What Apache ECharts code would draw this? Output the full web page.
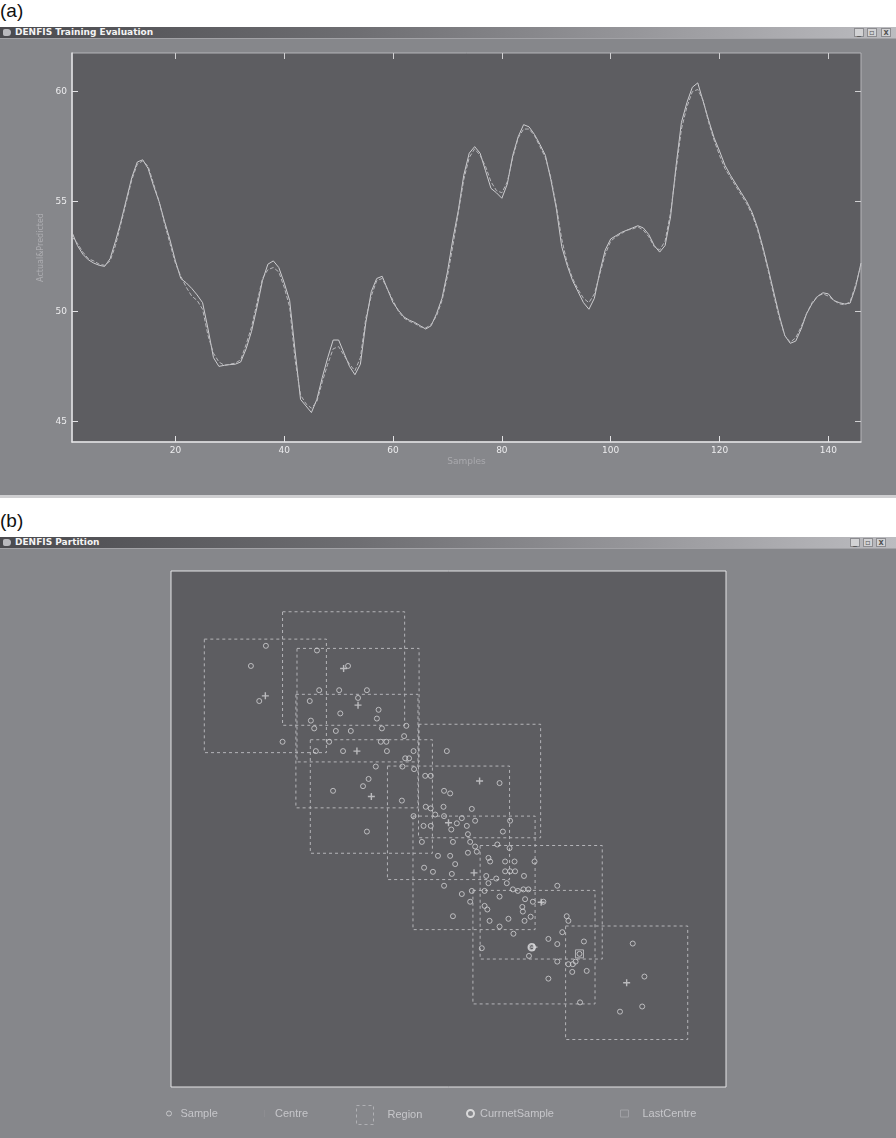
<!DOCTYPE html>
<html>
<head>
<meta charset="utf-8">
<script src="https://cdn.jsdelivr.net/npm/echarts@6/dist/echarts.min.js"></script>
<style>
  body { margin: 0; background: #fff; }
  #page { position: relative; width: 896px; height: 1138px; background: #fff; overflow: hidden; font-family: "Liberation Sans", Arial, sans-serif; }
  .lab { position: absolute; left: 0; font-size: 19px; color: #111; }
  .bar { position: absolute; left: 0; width: 896px; height: 11px; background: linear-gradient(to right, #4a4a4e 0%, #6e6e72 40%, #bcbcc0 100%); }
  .bar span { position: absolute; left: 15px; top: 0; font: bold 9px "DejaVu Sans", sans-serif; line-height: 11px; color: #f4f4f4; white-space: nowrap; }
  .ico { position: absolute; left: 3px; top: 2px; width: 8px; height: 7px; background: #b9b9bd; border-radius: 2px 4px 4px 2px; }
  .btn { position: absolute; top: 1px; width: 10px; height: 9px; background: #d2d2d4; border: 1px solid #8c8c90; box-sizing: border-box; font: bold 8px "DejaVu Sans", sans-serif; line-height: 7px; text-align: center; color: #555; }
  .sep { position: absolute; left: 0; width: 896px; height: 1px; background: #a2a2a6; }
  .body { position: absolute; left: 0; width: 896px; background: #86878b; }
  #chart { position: absolute; left: 0; top: 0; width: 896px; height: 1138px; }
</style>
</head>
<body>
<div id="page">
  <div class="lab" style="top:0px">(a)</div>
  <div class="bar" style="top:27px"><div class="ico"></div><span>DENFIS Training Evaluation</span>
    <div class="btn" style="left:854px">_</div><div class="btn" style="left:867px">&#9643;</div><div class="btn" style="left:881px">x</div>
  </div>
  <div class="sep" style="top:38px"></div>
  <div class="body" style="top:39px; height:456px"></div>
  <div class="sep" style="top:495px; height:3px; background:#cfcfd1"></div>

  <div class="lab" style="top:510px">(b)</div>
  <div class="bar" style="top:537px"><div class="ico"></div><span>DENFIS Partition</span>
    <div class="btn" style="left:850px">_</div><div class="btn" style="left:863px">&#9643;</div><div class="btn" style="left:876px">x</div>
  </div>
  <div class="sep" style="top:548px"></div>
  <div class="body" style="top:549px; height:589px"></div>

  <div id="chart"></div>
</div>
<script>
// ---------- (a) training evaluation ----------
const xTicks = [20, 40, 60, 80, 100, 120, 140]
const yTicks = [45, 50, 55, 60]

const actual = [53.6, 53.0, 52.6, 52.35, 52.2, 52.1, 52.05, 52.4, 53.2, 54.1,
  55.1, 56.1, 56.8, 56.9, 56.5, 55.7, 55.0, 54.1, 53.26, 52.3,
  51.5, 51.3, 51.05, 50.75, 50.4, 49.2, 47.9, 47.5, 47.55, 47.58,
  47.6, 47.7, 48.3, 49.1, 50.2, 51.4, 52.15, 52.3, 52.0, 51.3,
  50.5, 48.2, 46.0, 45.7, 45.4, 46.0, 47.0, 47.9, 48.7, 48.7,
  48.1, 47.5, 47.12, 47.6, 49.5, 50.9, 51.5, 51.6, 51.0, 50.4,
  50.05, 49.75, 49.6, 49.5, 49.35, 49.2, 49.35, 49.9, 50.6, 51.8,
  53.3, 54.6, 56.2, 57.2, 57.5, 57.2, 56.4, 55.6, 55.4, 55.15,
  55.8, 57.1, 57.95, 58.5, 58.4, 58.05, 57.6, 57.1, 56.0, 54.7,
  52.95, 52.1, 51.4, 50.9, 50.4, 50.1, 50.6, 51.8, 52.8, 53.3,
  53.45, 53.6, 53.7, 53.8, 53.9, 53.8, 53.5, 53.0, 52.7, 53.0,
  54.3, 56.6, 58.6, 59.5, 60.2, 60.4, 59.55, 58.7, 57.9, 57.3,
  56.65, 56.2, 55.8, 55.4, 55.0, 54.5, 53.8, 52.9, 51.9, 50.84,
  49.8, 48.9, 48.55, 48.65, 49.2, 49.9, 50.35, 50.68, 50.85, 50.8,
  50.5, 50.4, 50.34, 50.38, 51.1, 52.2]

const predicted = [53.4, 53.1, 52.7, 52.4, 52.3, 52.15, 52.1, 52.3, 53.0, 54.0,
  55.0, 56.0, 56.7, 56.85, 56.6, 55.8, 55.0, 54.0, 53.1, 52.2,
  51.6, 51.1, 50.7, 50.5, 50.1, 48.9, 48.1, 47.7, 47.55, 47.6,
  47.65, 47.8, 48.5, 49.3, 50.4, 51.5, 51.9, 52.0, 51.8, 51.1,
  50.2, 47.8, 46.2, 45.8, 45.6, 45.9, 46.8, 47.6, 48.3, 48.4,
  48.0, 47.6, 47.3, 47.9, 49.7, 50.7, 51.4, 51.5, 51.0, 50.5,
  50.0, 49.7, 49.55, 49.45, 49.3, 49.25, 49.4, 49.8, 50.5, 51.6,
  53.0, 54.5, 56.0, 57.0, 57.4, 57.1, 56.6, 55.9, 55.5, 55.4,
  55.9, 57.0, 57.9, 58.3, 58.3, 58.0, 57.5, 57.0, 56.1, 54.8,
  53.3, 52.2, 51.5, 51.0, 50.6, 50.4, 50.8, 51.7, 52.6, 53.2,
  53.4, 53.55, 53.7, 53.75, 53.85, 53.7, 53.4, 52.95, 52.8, 53.2,
  54.5, 56.4, 58.3, 59.3, 60.0, 60.1, 59.6, 58.6, 57.8, 57.1,
  56.5, 56.1, 55.7, 55.3, 54.9, 54.4, 53.7, 52.8, 51.8, 50.7,
  49.7, 48.9, 48.6, 48.8, 49.3, 49.9, 50.4, 50.7, 50.8, 50.7,
  50.5, 50.35, 50.3, 50.45, 51.2, 52.1]

// ---------- (b) partition (normalised input space) ----------
const sampleX = [0.171, 0.144, 0.159, 0.201, 0.263, 0.319, 0.267, 0.303, 0.353, 0.250,
  0.337, 0.305, 0.374, 0.371, 0.252, 0.258, 0.297, 0.324, 0.380, 0.424,
  0.420, 0.285, 0.378, 0.388, 0.261, 0.310, 0.389, 0.437, 0.497, 0.422,
  0.429, 0.417, 0.438, 0.369, 0.356, 0.346, 0.292, 0.416, 0.458, 0.468,
  0.492, 0.503, 0.491, 0.353, 0.459, 0.437, 0.455, 0.468, 0.476, 0.492,
  0.515, 0.524, 0.533, 0.505, 0.452, 0.508, 0.535, 0.535, 0.481, 0.503,
  0.512, 0.456, 0.592, 0.542, 0.468, 0.548, 0.611, 0.598, 0.539, 0.548,
  0.588, 0.610, 0.551, 0.472, 0.506, 0.572, 0.575, 0.602, 0.619, 0.655,
  0.602, 0.611, 0.620, 0.568, 0.586, 0.636, 0.572, 0.605, 0.696, 0.492,
  0.524, 0.542, 0.565, 0.616, 0.625, 0.635, 0.644, 0.592, 0.638, 0.539,
  0.652, 0.671, 0.565, 0.570, 0.633, 0.634, 0.508, 0.574, 0.608, 0.637,
  0.648, 0.713, 0.716, 0.592, 0.617, 0.705, 0.680, 0.696, 0.744, 0.560,
  0.650, 0.645, 0.736, 0.696, 0.716, 0.724, 0.729, 0.723, 0.749, 0.680,
  0.832, 0.853, 0.849, 0.809, 0.737]
const sampleY = [0.855, 0.816, 0.748, 0.669, 0.846, 0.816, 0.769, 0.769, 0.769, 0.748,
  0.754, 0.724, 0.731, 0.714, 0.710, 0.695, 0.690, 0.690, 0.695, 0.700,
  0.680, 0.669, 0.669, 0.669, 0.651, 0.651, 0.651, 0.651, 0.651, 0.637,
  0.637, 0.621, 0.616, 0.621, 0.597, 0.583, 0.574, 0.555, 0.603, 0.603,
  0.574, 0.569, 0.543, 0.495, 0.543, 0.525, 0.506, 0.506, 0.528, 0.525,
  0.511, 0.521, 0.506, 0.499, 0.475, 0.475, 0.490, 0.454, 0.448, 0.448,
  0.432, 0.425, 0.589, 0.539, 0.540, 0.516, 0.516, 0.495, 0.475, 0.466,
  0.470, 0.463, 0.456, 0.417, 0.413, 0.444, 0.437, 0.437, 0.437, 0.437,
  0.418, 0.418, 0.418, 0.409, 0.404, 0.409, 0.395, 0.395, 0.390, 0.390,
  0.374, 0.380, 0.380, 0.383, 0.380, 0.383, 0.383, 0.369, 0.364, 0.359,
  0.359, 0.359, 0.351, 0.344, 0.349, 0.340, 0.331, 0.322, 0.326, 0.322,
  0.330, 0.331, 0.322, 0.311, 0.297, 0.300, 0.287, 0.277, 0.282, 0.269,
  0.271, 0.254, 0.258, 0.243, 0.238, 0.238, 0.243, 0.223, 0.225, 0.210,
  0.278, 0.214, 0.156, 0.146, 0.164]

const centreX = [0.170, 0.311, 0.337, 0.335, 0.361, 0.500, 0.556, 0.546, 0.667, 0.654, 0.821]
const centreY = [0.758, 0.811, 0.740, 0.651, 0.563, 0.512, 0.593, 0.415, 0.358, 0.271, 0.202]
const regionRadius = 0.11

const currentSample = [0.650, 0.271]
const lastCentre = [0.736, 0.258]

const lineColor = '#cdcdd0'
const markColor = '#d2d2d4'
const legendText = { color: '#c6c6ca', fontSize: 11, fontFamily: 'Liberation Sans, Arial, sans-serif' }

const chartInstance = echarts.init(document.getElementById('chart'), null, { renderer: 'canvas' })

const option = {
  animation: false,
  grid: [
    { left: 72, top: 53, width: 789, height: 389, show: true, backgroundColor: '#5d5d61', borderColor: '#b4b4b8', borderWidth: 1, containLabel: false, outerBoundsMode: 'none' },
    { left: 171, top: 571, width: 555, height: 516, show: true, backgroundColor: '#5d5d61', borderColor: '#e4e4e6', borderWidth: 1, containLabel: false, outerBoundsMode: 'none' }
  ],
  xAxis: [
    {
      gridIndex: 0, type: 'value', min: 1, max: 146, position: 'bottom',
      axisLine: { lineStyle: { color: '#e2e2e4', width: 1.5 } },
      axisTick: { inside: true, length: 6, customValues: xTicks, lineStyle: { color: '#e2e2e4' } },
      axisLabel: { customValues: xTicks, margin: 4, color: '#ececee', fontSize: 9, fontFamily: 'DejaVu Sans' },
      splitLine: { show: false },
      name: 'Samples', nameLocation: 'middle', nameGap: 15,
      nameTextStyle: { color: '#a9a9ad', fontSize: 9, fontFamily: 'DejaVu Sans' }
    },
    {
      gridIndex: 0, type: 'value', min: 1, max: 146, position: 'top',
      axisLine: { show: false },
      axisTick: { inside: true, length: 6, customValues: xTicks, lineStyle: { color: '#d0d0d2' } },
      axisLabel: { show: false }, splitLine: { show: false }
    },
    { gridIndex: 1, type: 'value', min: 0, max: 1, show: false, splitLine: { show: false } }
  ],
  yAxis: [
    {
      gridIndex: 0, type: 'value', min: 44.06, max: 61.76, position: 'left',
      axisLine: { show: true, lineStyle: { color: '#e2e2e4', width: 1.5 } },
      axisTick: { show: true, inside: true, length: 6, customValues: yTicks, lineStyle: { color: '#e2e2e4' } },
      axisLabel: { customValues: yTicks, margin: 5, color: '#ececee', fontSize: 9, fontFamily: 'DejaVu Sans' },
      splitLine: { show: false },
      name: 'Actual&Predicted', nameLocation: 'middle', nameGap: 18, nameRotate: 90,
      nameTextStyle: { color: '#adadb1', fontSize: 8, fontFamily: 'DejaVu Sans' }
    },
    {
      gridIndex: 0, type: 'value', min: 44.06, max: 61.76, position: 'right',
      axisLine: { show: false },
      axisTick: { show: true, inside: true, length: 6, customValues: yTicks, lineStyle: { color: '#d0d0d2' } },
      axisLabel: { show: false }, splitLine: { show: false }
    },
    { gridIndex: 1, type: 'value', min: 0, max: 1, show: false, splitLine: { show: false } }
  ],
  legend: [
    { data: [{ name: 'Sample', icon: 'circle', itemStyle: { color: 'transparent', borderColor: markColor, borderWidth: 1 } }],
      left: 166, top: 1108, padding: 0, itemWidth: 5, itemHeight: 5, textStyle: { ...legendText, padding: [0, 0, 0, 4] } },
    { data: [{ name: 'Centre', icon: 'rect', itemStyle: { color: '#8e8e92' } }],
      left: 264, top: 1108, padding: 0, itemWidth: 1, itemHeight: 7, textStyle: { ...legendText, padding: [0, 0, 0, 5] } },
    { data: [{ name: 'Region', icon: 'rect', itemStyle: { color: 'transparent', borderColor: '#b0b0b4', borderWidth: 1, borderType: [3, 3] } }],
      left: 356, top: 1105, padding: 0, itemWidth: 17, itemHeight: 19, textStyle: { ...legendText, padding: [0, 0, 0, 9] } },
    { data: [{ name: 'CurrnetSample', icon: 'circle', itemStyle: { color: 'transparent', borderColor: '#eeeeee', borderWidth: 2 } }],
      left: 466, top: 1108, padding: 0, itemWidth: 7, itemHeight: 7, textStyle: { ...legendText, padding: [0, 0, 0, 1] } },
    { data: [{ name: 'LastCentre', icon: 'rect', itemStyle: { color: 'transparent', borderColor: '#a8a8ac', borderWidth: 1 } }],
      left: 620, top: 1108, padding: 0, itemWidth: 8, itemHeight: 7, textStyle: { ...legendText, padding: [0, 0, 0, 9] } }
  ],
  series: [
    {
      name: 'Actual', type: 'line', xAxisIndex: 0, yAxisIndex: 0, showSymbol: false,
      data: actual.map((v, i) => [i + 1, v]),
      lineStyle: { color: lineColor, width: 1 }
    },
    {
      name: 'Predicted', type: 'line', xAxisIndex: 0, yAxisIndex: 0, showSymbol: false,
      data: predicted.map((v, i) => [i + 1, v]),
      lineStyle: { color: '#b8b8bc', width: 1, type: [4, 2] }
    },
    {
      name: 'Region', type: 'custom', xAxisIndex: 2, yAxisIndex: 2,
      data: centreX.map((x, i) => [x, centreY[i]]),
      renderItem: (params, api) => {
        const p1 = api.coord([api.value(0) - regionRadius, api.value(1) + regionRadius])
        const p2 = api.coord([api.value(0) + regionRadius, api.value(1) - regionRadius])
        return {
          type: 'rect',
          shape: { x: p1[0], y: p1[1], width: p2[0] - p1[0], height: p2[1] - p1[1] },
          style: { fill: 'none', stroke: '#b4b4b8', lineWidth: 1, lineDash: [3, 3] }
        }
      },
      itemStyle: { color: 'transparent', borderColor: '#b0b0b4' }
    },
    {
      name: 'Sample', type: 'scatter', xAxisIndex: 2, yAxisIndex: 2,
      data: sampleX.map((x, i) => [x, sampleY[i]]),
      symbol: 'circle', symbolSize: 5,
      itemStyle: { color: 'transparent', borderColor: markColor, borderWidth: 1 }
    },
    {
      name: 'Centre', type: 'scatter', xAxisIndex: 2, yAxisIndex: 2,
      data: centreX.map((x, i) => [x, centreY[i]]),
      symbol: 'path://M4,0H6V4H10V6H6V10H4V6H0V4H4Z', symbolSize: 7,
      itemStyle: { color: markColor }
    },
    {
      name: 'CurrnetSample', type: 'scatter', xAxisIndex: 2, yAxisIndex: 2,
      data: [currentSample], symbol: 'circle', symbolSize: 7,
      itemStyle: { color: 'transparent', borderColor: '#e4e4e6', borderWidth: 1.5 }
    },
    {
      name: 'LastCentre', type: 'scatter', xAxisIndex: 2, yAxisIndex: 2,
      data: [lastCentre], symbol: 'rect', symbolSize: 8,
      itemStyle: { color: 'transparent', borderColor: '#c8c8cc', borderWidth: 1 }
    }
  ]
}
chartInstance.setOption(option)
</script>
</body>
</html>
